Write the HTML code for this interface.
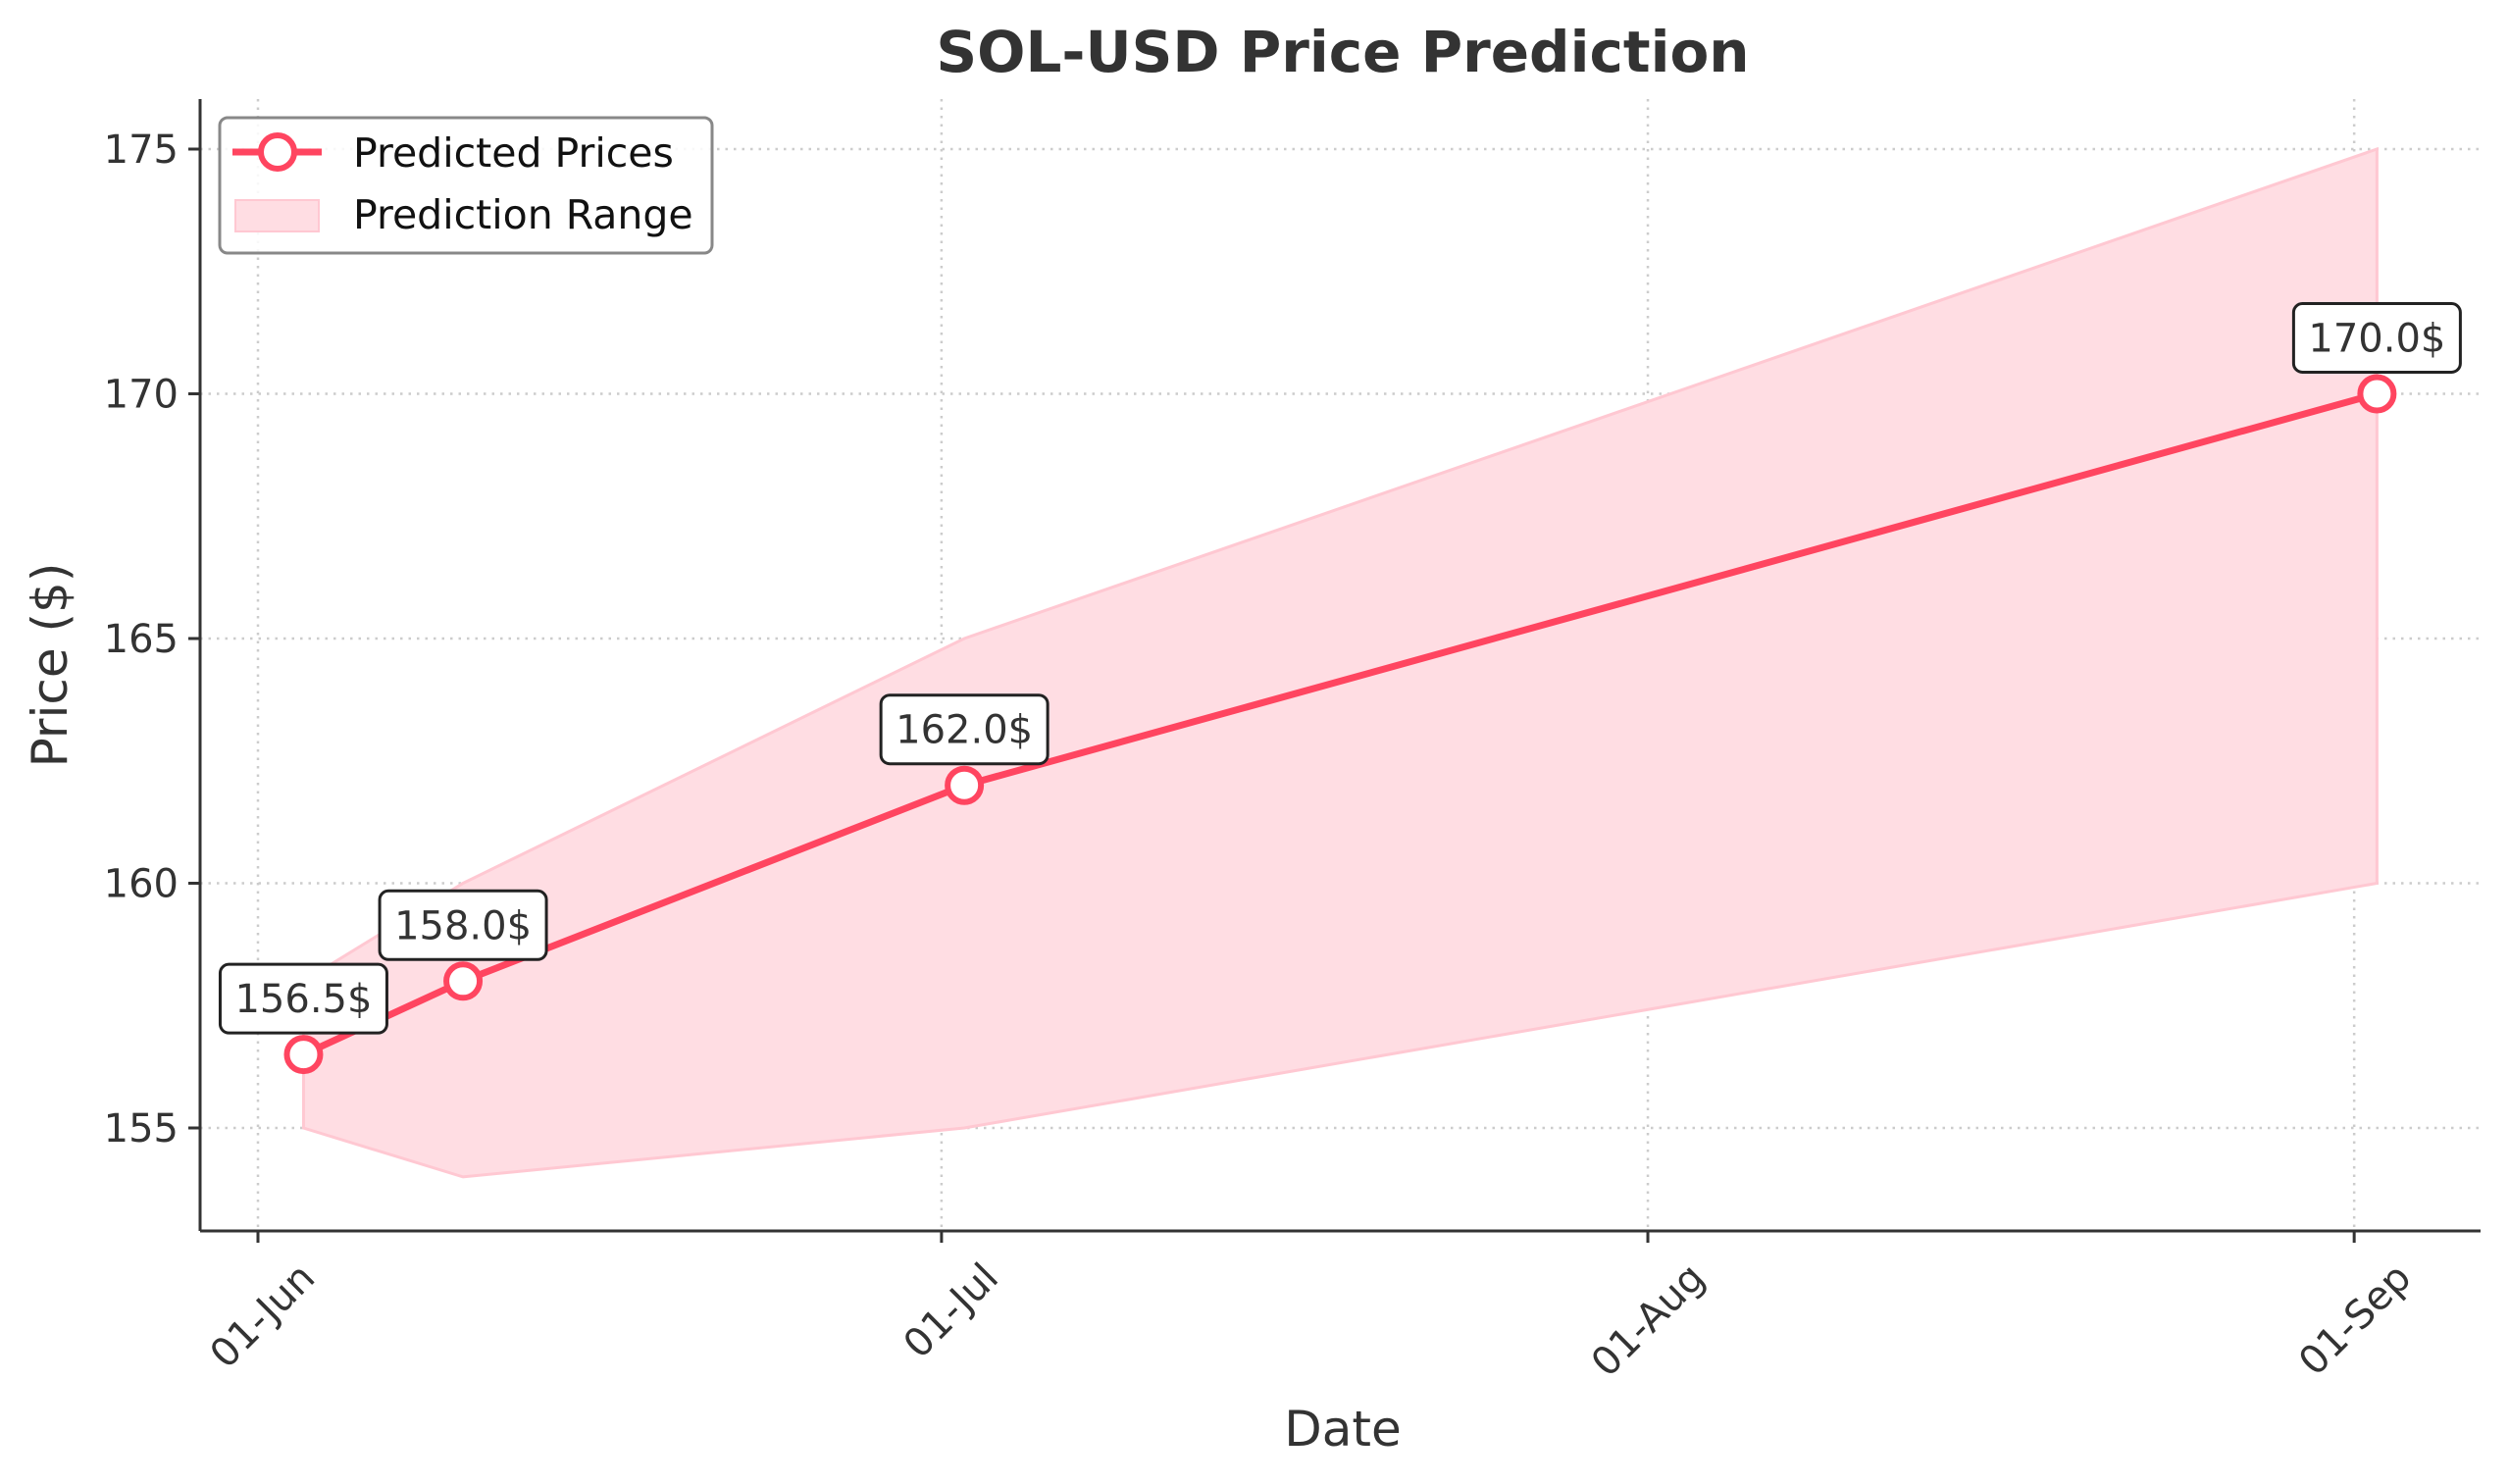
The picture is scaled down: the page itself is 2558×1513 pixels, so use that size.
<!DOCTYPE html>
<html><head><meta charset="utf-8"><style>
html,body{margin:0;padding:0;background:#fff;}
svg{display:block;font-family:"DejaVu Sans","Liberation Sans",sans-serif;}
</style></head><body>
<svg id="chart" width="2558" height="1513" viewBox="0 0 2558 1513" xmlns="http://www.w3.org/2000/svg">
<rect x="0" y="0" width="2558" height="1513" fill="#fff"/>
<text x="1369" y="73" text-anchor="middle" font-size="58" font-weight="bold" fill="#333">SOL-USD Price Prediction</text>
<g id="grid"></g>
<g id="band"></g>
<g id="series"></g>
<g id="axes"></g>
<text x="1369" y="1474" text-anchor="middle" font-size="50" fill="#333">Date</text>
<text transform="translate(68,678) rotate(-90)" text-anchor="middle" font-size="50" fill="#333">Price ($)</text>
<g>
<rect x="224" y="120" width="502" height="138" rx="8" fill="#fff" fill-opacity="0.85" stroke="#888" stroke-width="3"/>
<line x1="237" y1="155" x2="328" y2="155" stroke="#ff4560" stroke-width="7"/>
<circle cx="283" cy="155" r="17" fill="#fff" stroke="#ff4560" stroke-width="6"/>
<text x="360" y="170" font-size="41" fill="#111">Predicted Prices</text>
<rect x="240" y="204" width="85" height="32" fill="#ffdde3" stroke="#ffc8d2" stroke-width="2"/>
<text x="360" y="233" font-size="41" fill="#111">Prediction Range</text>
</g>
</svg>
<script>
// data (day offset from 01-Jun)
const dates = [2, 9, 31, 93];
const predicted = [156.5, 158.0, 162.0, 170.0];
const lower = [155, 154, 155, 160];
const upper = [158, 160, 165, 175];
const yTicks = [155, 160, 165, 170, 175];
const xTickDays = [0, 30, 61, 92];
const xTickLabels = ["01-Jun", "01-Jul", "01-Aug", "01-Sep"];

const NS = "http://www.w3.org/2000/svg";
const L = 204, R = 2529, T = 101, B = 1255;
const xs = d => 263 + d * 23.23;
const ys = v => 1150 - (v - 155) * 49.9;
function mk(tag, attrs, parent) {
  const e = document.createElementNS(NS, tag);
  for (const k in attrs) e.setAttribute(k, attrs[k]);
  parent.appendChild(e);
  return e;
}
const grid = document.getElementById('grid');
const axes = document.getElementById('axes');
const band = document.getElementById('band');
const series = document.getElementById('series');

yTicks.forEach(v => {
  const g = mk('line', {x1: L, x2: R, y1: ys(v), y2: ys(v), stroke: '#ccc', 'stroke-width': 2.5, 'stroke-dasharray': '2.5 6'}, grid);
  
  
  const t = mk('line', {x1: L - 12, x2: L, y1: ys(v), y2: ys(v), stroke: '#333', 'stroke-width': 3}, axes);
  
  
  const lb = mk('text', {x: L - 22, y: ys(v) + 14, 'text-anchor': 'end', 'font-size': 40, fill: '#333'}, axes);
  lb.textContent = String(v);
  
  
});
xTickDays.forEach((d, i) => {
  const x = xs(d);
  const g = mk('line', {x1: x, x2: x, y1: T, y2: B, stroke: '#ccc', 'stroke-width': 2.5, 'stroke-dasharray': '2.5 6'}, grid);
  
  
  const t = mk('line', {x1: x, x2: x, y1: B, y2: B + 12, stroke: '#333', 'stroke-width': 3}, axes);
  
  
  const lb = mk('text', {transform: `translate(${x + 60},${B + 50}) rotate(-45)`, 'text-anchor': 'end', 'font-size': 40, fill: '#333'}, axes);
  lb.textContent = xTickLabels[i];
  
  
});
const sl = mk('line', {x1: L, x2: L, y1: T, y2: B, stroke: '#333', 'stroke-width': 3}, axes);


const sb = mk('line', {x1: L, x2: R, y1: B, y2: B, stroke: '#333', 'stroke-width': 3}, axes);



let pts = dates.map((d, i) => `${xs(d)},${ys(upper[i])}`);
for (let i = dates.length - 1; i >= 0; i--) pts.push(`${xs(dates[i])},${ys(lower[i])}`);
const poly = mk('polygon', {points: pts.join(' '), fill: '#ffdde3', stroke: '#ffc8d2', 'stroke-width': 3}, band);



const line = mk('polyline', {points: dates.map((d, i) => `${xs(d)},${ys(predicted[i])}`).join(' '), fill: 'none', stroke: '#ff4560', 'stroke-width': 7, 'stroke-linejoin': 'round'}, series);


dates.forEach((d, i) => {
  const x = xs(d), y = ys(predicted[i]);
  const c = mk('circle', {cx: x, cy: y, r: 17, fill: '#fff', stroke: '#ff4560', 'stroke-width': 6}, series);
  
  
  const bx = mk('rect', {x: x - 85, y: y - 92, width: 170, height: 70, rx: 9, fill: '#fff', stroke: '#222', 'stroke-width': 3}, series);
  
  
  const t = mk('text', {x: x, y: y - 43, 'text-anchor': 'middle', 'font-size': 40, fill: '#333'}, series);
  t.textContent = predicted[i].toFixed(1) + '$';
  
  
});
</script>
</body></html>
